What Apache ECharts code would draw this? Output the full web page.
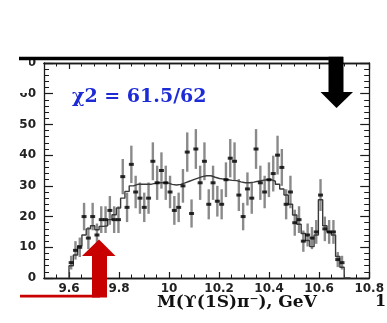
<!DOCTYPE html>
<html>
<head>
<meta charset="utf-8">
<script src="https://cdn.jsdelivr.net/npm/echarts@6/dist/echarts.min.js"></script>
<style>
  html, body { margin: 0; padding: 0; background: #fff; }
  #chart { width: 387px; height: 323px; }
</style>
</head>
<body>
<div id="chart"></div>
<script>
// Histogram range of M(Y(1S)pi-) in GeV, 64 equal bins
const binLow = 9.6;
const binHigh = 10.7;

// Events per bin
const counts = [
  5, 9, 10, 20, 13, 20, 14, 19, 19, 22, 19, 19,
  33, 23, 37, 28, 26, 23, 26, 38, 31, 35, 31, 28,
  22, 23, 30, 41, 21, 42, 31, 38, 24, 31, 25, 24,
  32, 39, 38, 27, 20, 29, 26, 42, 31, 28, 32, 34,
  40, 36, 24, 28, 18, 19, 12, 14, 13, 15, 27, 16,
  15, 15, 6, 5
];

// Fit result per bin
const fitValues = [
  4, 7.5, 10.5, 14, 16, 17, 15.7, 16.8, 17, 19, 20.6, 22.8,
  26, 28.2, 30, 30.5, 30.5, 30.5, 30.5, 30.8, 31, 31, 31, 30.5,
  30.3, 30.5, 31, 31.5, 32, 32.5, 33, 33.3, 33.3, 32.8, 32.4, 32.2,
  32, 31.8, 31.7, 31.3, 31, 31, 31.2, 31.5, 31.8, 32, 32, 31.5,
  30.5, 29, 27, 24, 20.5, 17.5, 14.5, 12.2, 10.2, 14, 25.5, 17,
  15, 14, 7, 3.5
];

const xMajorTicks = [9.6, 9.8, 10, 10.2, 10.4, 10.6, 10.8];
const fitLabel = 'χ2 = 61.5/62';
const xTitle = 'M(ϒ(1S)π⁻), GeV';

const binWidth = (binHigh - binLow) / counts.length;
const points = counts.map((c, i) => [binLow + (i + 0.5) * binWidth, c, Math.sqrt(c)]);

// Step outline of the fit: one point per bin lower edge, closed down to zero
const fitOutline = [[binLow, 0]];
fitValues.forEach((f, i) => fitOutline.push([binLow + i * binWidth, f]));
fitOutline.push([binHigh, 0]);
fitOutline.push([binHigh + 0.025, 0]);

const frame = '#1a1a1a';
const tickFont = { fontFamily: 'DejaVu Sans', fontWeight: 'bold', fontSize: 12, color: '#222' };

function xAxisDef(position, major, withLabels) {
  return {
    type: 'value', position: position, min: 9.5, max: 10.8,
    interval: major ? undefined : 0.05,
    axisLine: { show: true, onZero: false, lineStyle: { color: frame, width: 1.3 } },
    axisTick: major
      ? { show: true, inside: true, length: 6, customValues: xMajorTicks, lineStyle: { color: frame, width: 1.2 } }
      : { show: true, inside: true, length: 3.5, lineStyle: { color: frame, width: 1 } },
    axisLabel: withLabels
      ? Object.assign({ show: true, margin: 5, customValues: xMajorTicks }, tickFont)
      : { show: false },
    splitLine: { show: false }
  };
}

function yAxisDef(position, withLabels) {
  return {
    type: 'value', position: position, min: 0, max: 70, interval: 10,
    axisLine: { show: true, onZero: false, lineStyle: { color: frame, width: 1.3 } },
    axisTick: { show: true, inside: true, length: 9, lineStyle: { color: frame, width: 1.2 } },
    minorTick: { show: true, splitNumber: 5, length: 5, lineStyle: { color: frame, width: 1 } },
    axisLabel: withLabels ? Object.assign({ show: true, margin: 8 }, tickFont) : { show: false },
    splitLine: { show: false }
  };
}

const chart = echarts.init(document.getElementById('chart'), null, { renderer: 'canvas' });

chart.setOption({
  animation: false,
  backgroundColor: '#fff',
  grid: { left: 44, right: 10, top: 63, bottom: 45 },
  xAxis: [
    xAxisDef('bottom', true, true),
    xAxisDef('bottom', false, false),
    xAxisDef('top', true, false),
    xAxisDef('top', false, false)
  ],
  yAxis: [yAxisDef('left', true), yAxisDef('right', false)],
  series: [
    {
      // statistical error bars
      type: 'custom',
      data: points,
      z: 2,
      renderItem: function (params, api) {
        const x = api.value(0), y = api.value(1), e = api.value(2);
        const top = api.coord([x, y + e]);
        const bot = api.coord([x, y - e]);
        return {
          type: 'line',
          shape: { x1: top[0], y1: top[1], x2: bot[0], y2: bot[1] },
          style: { stroke: '#8a8a8a', lineWidth: 2.4 }
        };
      }
    },
    {
      // fit histogram
      type: 'line',
      data: fitOutline,
      step: 'end',
      symbol: 'none',
      z: 3,
      lineStyle: { color: '#3a3a3a', width: 1.4 }
    },
    {
      // measured bin contents
      type: 'scatter',
      data: points.map(p => [p[0], p[1]]),
      symbol: 'rect',
      symbolSize: [5, 3],
      z: 4,
      itemStyle: { color: '#000' }
    }
  ],
  graphic: [
    // label mask in the top-left corner
    { type: 'rect', z: 50, shape: { x: 12, y: 60, width: 17, height: 33 }, style: { fill: '#fff' } },
    // black arrow from the top
    { type: 'rect', z: 60, shape: { x: 19, y: 56.8, width: 324, height: 3.4 }, style: { fill: '#000' } },
    { type: 'rect', z: 60, shape: { x: 328.5, y: 56.8, width: 15, height: 35.5 }, style: { fill: '#000' } },
    { type: 'polygon', z: 60, shape: { points: [[320.5, 92], [353, 92], [336.5, 108]] }, style: { fill: '#000' } },
    // red arrow from the bottom
    { type: 'rect', z: 60, shape: { x: 20, y: 294.8, width: 80, height: 2.6 }, style: { fill: '#c80000' } },
    { type: 'rect', z: 60, shape: { x: 92, y: 256, width: 15, height: 41.5 }, style: { fill: '#c80000' } },
    { type: 'polygon', z: 60, shape: { points: [[82, 256], [115.5, 256], [99, 239.5]] }, style: { fill: '#c80000' } },
    // fit quality
    {
      type: 'text', z: 70, left: 72, top: 88,
      style: { text: fitLabel, fill: '#1d2bd6', font: 'bold 19px "DejaVu Serif"' }
    },
    // axis title
    {
      type: 'text', z: 70, left: 157, top: 294,
      style: { text: xTitle, fill: '#111', font: 'bold 17px "DejaVu Serif"' }
    },
    {
      type: 'text', z: 70, left: 375, top: 294,
      style: { text: '1', fill: '#111', font: 'bold 16px "DejaVu Serif"' }
    }
  ]
});
</script>
</body>
</html>
